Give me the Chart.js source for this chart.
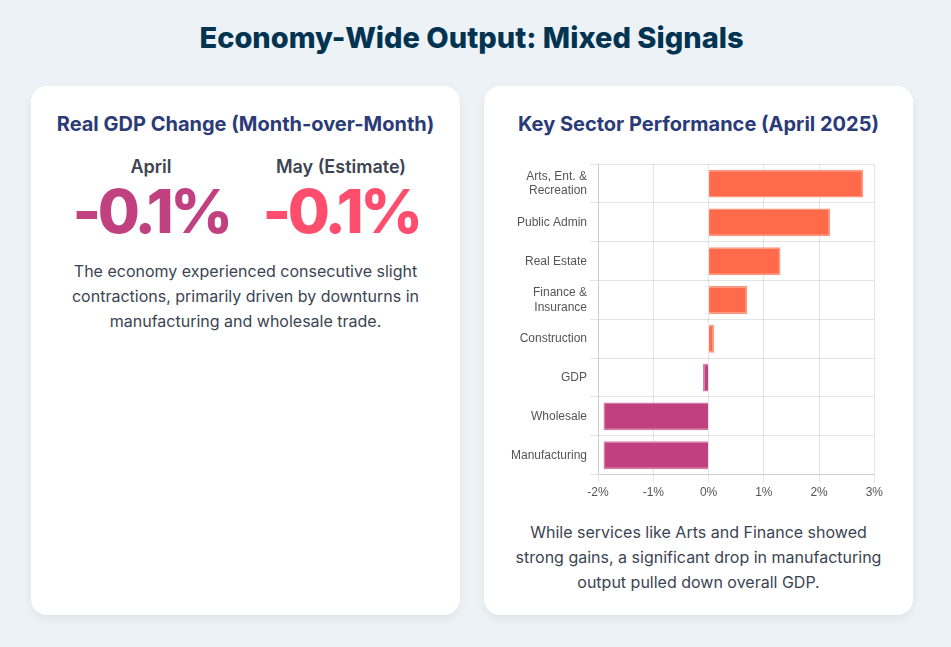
<!DOCTYPE html>
<html>
<head>
<meta charset="utf-8">
<script src="https://cdn.jsdelivr.net/npm/chart.js@4.4.0/dist/chart.umd.min.js"></script>
<style>
    * { box-sizing: border-box; }
    body {
        margin: 0;
        background: #edf2f7;
        font-family: Inter, "Noto Sans", sans-serif;
        width: 951px;
        height: 647px;
        overflow: hidden;
    }
    h1 {
        margin: 0;
        position: absolute;
        top: 20px;
        left: 0;
        width: 943px;
        text-align: center;
        font-size: 29px;
        font-weight: 800;
        color: #023451;
    }
    .card {
        position: absolute;
        top: 86px;
        width: 429px;
        height: 529px;
        background: #fff;
        border-radius: 16px;
        box-shadow: 0 4px 10px rgba(0, 0, 0, 0.06);
    }
    .card h2 {
        margin: 0;
        position: absolute;
        top: 26px;
        left: 0;
        width: 100%;
        text-align: center;
        font-size: 20px;
        font-weight: 700;
        color: #2b3b78;
    }
    .stat {
        position: absolute;
        top: 70px;
        width: 200px;
        text-align: center;
    }
    .stat .label {
        font-size: 18px;
        font-weight: 600;
        color: #3d4451;
    }
    .stat .value {
        font-size: 61px;
        font-weight: 800;
        letter-spacing: -3.5px;
        line-height: 1;
        margin-top: 4px;
    }
    .note {
        position: absolute;
        left: 30px;
        right: 30px;
        text-align: center;
        font-size: 16px;
        line-height: 25px;
        color: #3b4452;
        margin: 0;
    }
    .canvas-container {
        position: absolute;
        left: 24px;
        top: 68px;
        width: 378px;
        height: 349px;
    }
</style>
</head>
<body>
<h1>Economy-Wide Output: Mixed Signals</h1>

<div class="card" style="left:31px;">
    <h2>Real GDP Change (Month-over-Month)</h2>
    <div class="stat" style="left:20px;">
        <div class="label">April</div>
        <div class="value" style="color:#c1407f;">-0.1%</div>
    </div>
    <div class="stat" style="left:210px;">
        <div class="label">May (Estimate)</div>
        <div class="value" style="color:#ff4d6d;">-0.1%</div>
    </div>
    <p class="note" style="top:173px;">The economy experienced consecutive slight contractions, primarily driven by downturns in manufacturing and wholesale trade.</p>
</div>

<div class="card" style="left:484px;">
    <h2>Key Sector Performance (April 2025)</h2>
    <div class="canvas-container">
        <canvas id="sectorChart"></canvas>
    </div>
    <p class="note" style="top:434px;">While services like Arts and Finance showed strong gains, a significant drop in manufacturing output pulled down overall GDP.</p>
</div>

<script>
const sectors = [
    ['Arts, Ent. &', 'Recreation'],
    'Public Admin',
    'Real Estate',
    ['Finance &', 'Insurance'],
    'Construction',
    'GDP',
    'Wholesale',
    'Manufacturing'
];
const aprilChange = [2.8, 2.2, 1.3, 0.7, 0.1, -0.1, -1.9, -1.9];
const xTicks = [-2, -1, 0, 1, 2, 3];

const ctx = document.getElementById('sectorChart');
new Chart(ctx, {
    type: 'bar',
    data: {
        labels: sectors,
        datasets: [
            {
                data: aprilChange,
                backgroundColor: aprilChange.map(v => v >= 0 ? '#ff6b4a' : '#c1407f'),
                borderColor: aprilChange.map(v => v >= 0 ? 'rgba(255,140,112,0.9)' : 'rgba(208,105,155,0.9)'),
                borderWidth: 1.5,
            },
        ],
    },
    options: {
        indexAxis: 'y',
        responsive: true,
        maintainAspectRatio: false,
        animation: false,
        plugins: {
            legend: { display: false },
            tooltip: { enabled: false },
        },
        scales: {
            x: {
                min: xTicks[0],
                max: xTicks[xTicks.length - 1],
                ticks: {
                    stepSize: 1,
                    color: '#555',
                    font: { size: 12 },
                    callback: v => v + '%',
                },
                grid: { color: 'rgba(0,0,0,0.1)' },
            },
            y: {
                ticks: {
                    color: '#555',
                    font: { size: 12 },
                },
                grid: { color: 'rgba(0,0,0,0.1)' },
            },
        },
    },
});
</script>
</body>
</html>
